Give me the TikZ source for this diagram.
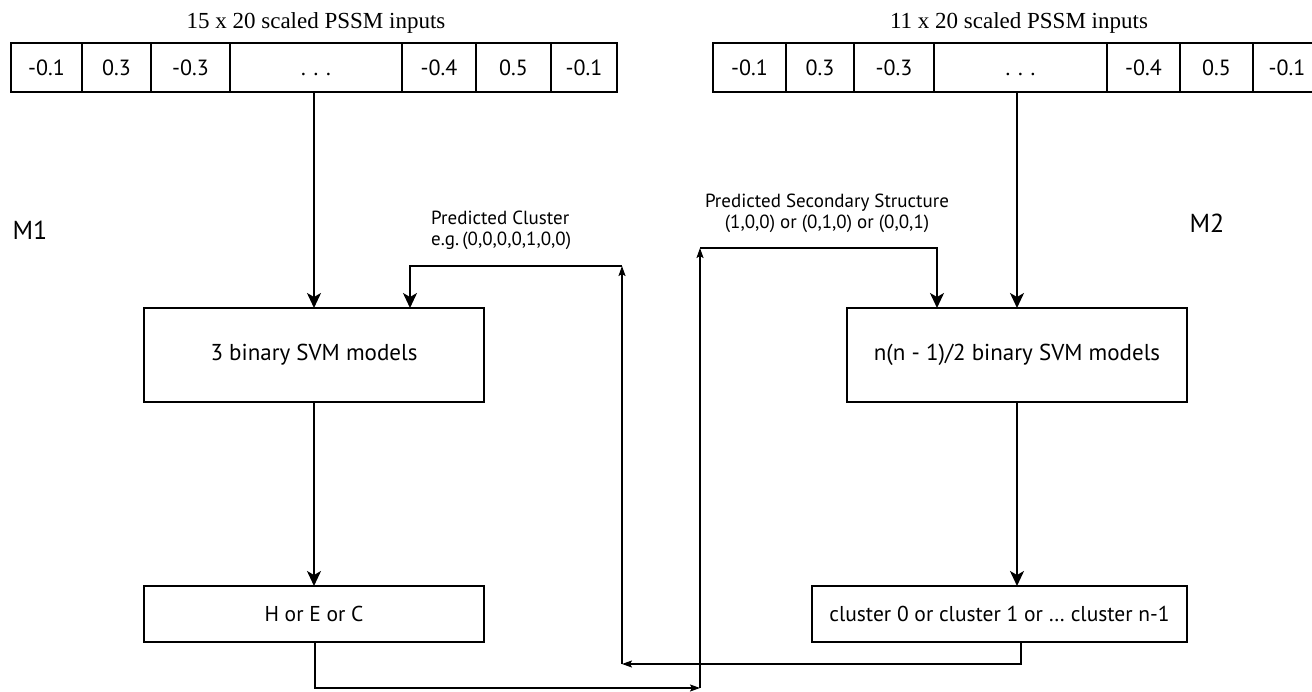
\documentclass[tikz,border=0pt]{standalone}
\usepackage{fontspec}
\setmainfont{PT Sans}
\newfontfamily\titlefont{Liberation Serif}
\usetikzlibrary{arrows.meta}
\tikzset{
  cell/.style={draw, line width=1.8pt, inner sep=0pt, outer sep=0pt, minimum height=49pt, text height=15.5pt, text depth=0pt, font=\fontsize{22}{24}\selectfont},
  box/.style={draw, line width=1.8pt, inner sep=0pt, outer sep=0pt, font=\fontsize{23}{26}\selectfont},
  smallbox/.style={box, font=\fontsize{21.5}{24}\selectfont},
  ttl/.style={font=\titlefont\fontsize{23}{26}\selectfont},
  lbl/.style={font=\fontsize{19}{21}\selectfont, inner sep=0pt},
  mlbl/.style={font=\fontsize{26}{30}\selectfont},
  conn/.style={line width=1.8pt},
  bigarrow/.style={conn, -{Stealth[length=15pt, width=14pt, inset=4pt]}},
  smallarrow/.style={conn, -{Stealth[length=10pt, width=7pt, inset=2pt]}},
}
\begin{document}
\begin{tikzpicture}[x=1pt, y=-1pt]
\useasboundingbox (0,0) rectangle (1312,692);
\clip (0,0) rectangle (1312,692);
% left input array
\foreach \a/\b/\t [count=\i, evaluate=\a as \w using \b-\a] in
  {11/82/-0.1, 82/151/0.3, 151/230/-0.3, 230/402/.\hspace{0.35em}.\hspace{0.35em}., 402/476/-0.4, 476/551/0.5, 551/617/-0.1}
  \node[cell, minimum width=\w pt] (L\i) at ({(\a+\b)/2},67.5) {\t};
% right input array
\foreach \a/\b/\t [count=\i, evaluate=\a as \w using \b-\a] in
  {713/786/-0.1, 786/854/0.3, 854/934/-0.3, 934/1107/.\hspace{0.35em}.\hspace{0.35em}., 1107/1180/-0.4, 1180/1253/0.5, 1253/1321/-0.1}
  \node[cell, minimum width=\w pt] (R\i) at ({(\a+\b)/2},67.5) {\t};
% titles
\node[ttl] (t1) at (316,23) {15 x 20 scaled PSSM inputs};
\node[ttl] (t2) at (1019,23) {11 x 20 scaled PSSM inputs};
% model labels
\node[mlbl] (m1) at (30,230) {M1};
\node[mlbl] (m2) at (1207,223) {M2};
% boxes
\node[box, minimum width=340pt, minimum height=94pt] (b1) at (314,355) {3 binary SVM models};
\node[box, minimum width=340pt, minimum height=94pt] (b2) at (1017,355) {n(n - 1)/2 binary SVM models};
\node[smallbox, minimum width=340pt, minimum height=56pt] (b3) at (314,614) {H or E or C};
\node[smallbox, minimum width=375pt, minimum height=56pt] (b4) at (999.5,614) {cluster 0 or cluster 1 or … cluster n-1};
% main arrows
\draw[bigarrow] (L4.south -| b1.north) -- (b1.north);
\draw[bigarrow] (b1.south) -- (b3.north);
\draw[bigarrow] (R4.south -| b2.north) -- (b2.north);
\draw[bigarrow] (b2.south) -- (b2.south |- b4.north);
% feedback loop A: cluster -> M1
\coordinate (a1) at (1021,664);
\coordinate (a2) at (622,664);
\coordinate (a3) at (622,266);
\coordinate (a4) at (410,266);
\draw[smallarrow] (b4.south -| a1) -- (a1) -- (a2);
\draw[smallarrow] (a2) -- (a3);
\draw[bigarrow] (a3) -- (a4) -- (a4 |- b1.north);
% feedback loop B: secondary structure -> M2
\coordinate (c1) at (315,688);
\coordinate (c2) at (700,688);
\coordinate (c3) at (700,248);
\coordinate (c4) at (937,248);
\draw[smallarrow] (b3.south -| c1) -- (c1) -- (c2);
\draw[smallarrow] (c2) -- (c3);
\draw[bigarrow] (c3) -- (c4) -- (c4 |- b2.north);
% loop labels
\node[lbl, align=left, anchor=south west] (pc) at (431,250) {Predicted Cluster\\e.g.\,(0,0,0,0,1,0,0)};
\node[lbl, align=center, anchor=south] (ps) at (827,233) {Predicted Secondary Structure\\(1,0,0) or (0,1,0) or (0,0,1)};
\end{tikzpicture}
\end{document}
